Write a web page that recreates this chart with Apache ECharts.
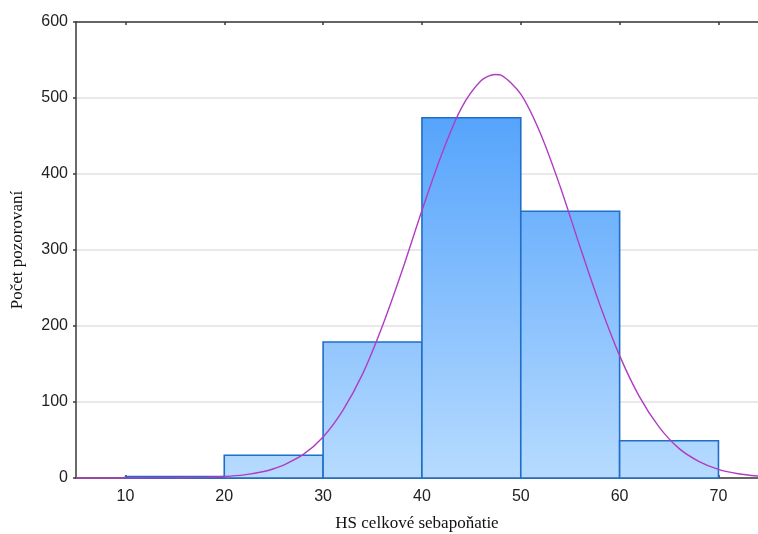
<!DOCTYPE html>
<html>
<head>
<meta charset="utf-8">
<script src="https://cdn.jsdelivr.net/npm/echarts@6/dist/echarts.min.js"></script>
<style>
  html, body { margin: 0; padding: 0; background: #ffffff; }
  #chart { width: 758px; height: 534px; }
</style>
</head>
<body>
<div id="chart"></div>
<script>
// Histogram bins: lower edge, upper edge, count of observations
const binLower = [10, 20, 30, 40, 50, 60];
const binUpper = [20, 30, 40, 50, 60, 70];
const binCounts = [2, 30, 179, 474, 351, 49];

// Fitted normal curve (expected counts per bin width)
const curveX = [5, 10, 14, 18, 20, 22, 24, 25, 26, 28, 30, 32, 34, 36, 38, 40, 42, 44, 46, 47.4, 48, 50, 52, 54, 56, 58, 60, 62, 64, 66, 68, 70, 72, 74];
const curveY = [0, 0, 0.1, 0.8, 1.9, 4.1, 8.6, 12.2, 17, 31, 54, 89, 137, 200, 273, 352, 426, 487, 523, 531, 530, 505, 453, 383, 304, 228, 161, 107, 67, 39, 22, 11.4, 5.6, 2.6];

// Axis ticks
const xTicks = [10, 20, 30, 40, 50, 60, 70];
const yTicks = [0, 100, 200, 300, 400, 500, 600];

const xTitle = 'HS celkové sebapoňatie';
const yTitle = 'Počet pozorovaní';

const chart = echarts.init(document.getElementById('chart'), null, { renderer: 'canvas' });

const barRows = binLower.map((lo, i) => [lo, binUpper[i], binCounts[i]]);
const curveRows = curveX.map((x, i) => [x, curveY[i]]);

const barFill = {
  type: 'linear', x: 0, y: 22, x2: 0, y2: 478, global: true,
  colorStops: [
    { offset: 0, color: '#3c95fb' },
    { offset: 1, color: '#b7dbff' }
  ]
};

const axisLineColor = '#3a3a3a';

chart.setOption({
  animation: false,
  backgroundColor: '#ffffff',
  grid: { left: 76, right: 0, top: 22, bottom: 56, containLabel: false, outerBoundsMode: 'none' },
  xAxis: [
    {
      type: 'value', min: 5, max: 74, position: 'bottom',
      name: xTitle, nameLocation: 'middle', nameGap: 37,
      nameTextStyle: { fontFamily: 'Liberation Serif', fontSize: 17, color: '#111' },
      axisLine: { show: true, onZero: false, lineStyle: { color: axisLineColor, width: 1.5 } },
      axisTick: { show: true, inside: true, length: 3, customValues: xTicks, lineStyle: { color: axisLineColor, width: 1.5 } },
      axisLabel: { customValues: xTicks, margin: 11, fontFamily: 'Liberation Sans', fontSize: 16, color: '#222' },
      splitLine: { show: false }
    },
    {
      type: 'value', min: 5, max: 74, position: 'top',
      axisLine: { show: true, onZero: false, lineStyle: { color: axisLineColor, width: 1.5 } },
      axisTick: { show: true, inside: true, length: 3, customValues: xTicks, lineStyle: { color: axisLineColor, width: 1.5 } },
      axisLabel: { show: false },
      splitLine: { show: false }
    }
  ],
  yAxis: {
    type: 'value', min: 0, max: 600, interval: 100,
    name: yTitle, nameLocation: 'middle', nameGap: 50, nameRotate: 90,
    nameTextStyle: { fontFamily: 'Liberation Serif', fontSize: 17, color: '#111' },
    axisLine: { show: true, onZero: false, lineStyle: { color: axisLineColor, width: 1.5 } },
    axisTick: { show: true, length: 3, lineStyle: { color: axisLineColor, width: 1.5 } },
    axisLabel: { margin: 8, fontFamily: 'Liberation Sans', fontSize: 16, color: '#222',
      formatter: v => (yTicks.indexOf(v) >= 0 ? String(v) : '') },
    splitLine: { show: true, lineStyle: { color: '#e2e2e2', width: 1.5 } }
  },
  series: [
    {
      type: 'custom',
      xAxisIndex: 0,
      data: barRows,
      encode: { x: [0, 1], y: 2 },
      renderItem: function (params, api) {
        const topLeft = api.coord([api.value(0), api.value(2)]);
        const bottomRight = api.coord([api.value(1), 0]);
        return {
          type: 'rect',
          shape: { x: topLeft[0], y: topLeft[1], width: bottomRight[0] - topLeft[0], height: bottomRight[1] - topLeft[1] },
          style: { fill: barFill, stroke: '#1f6ec8', lineWidth: 1.6 }
        };
      },
      z: 2
    },
    {
      type: 'line',
      xAxisIndex: 0,
      data: curveRows,
      showSymbol: false,
      smooth: 0.3,
      lineStyle: { color: '#b13cc4', width: 1.4 },
      z: 3
    }
  ]
});
</script>
</body>
</html>
